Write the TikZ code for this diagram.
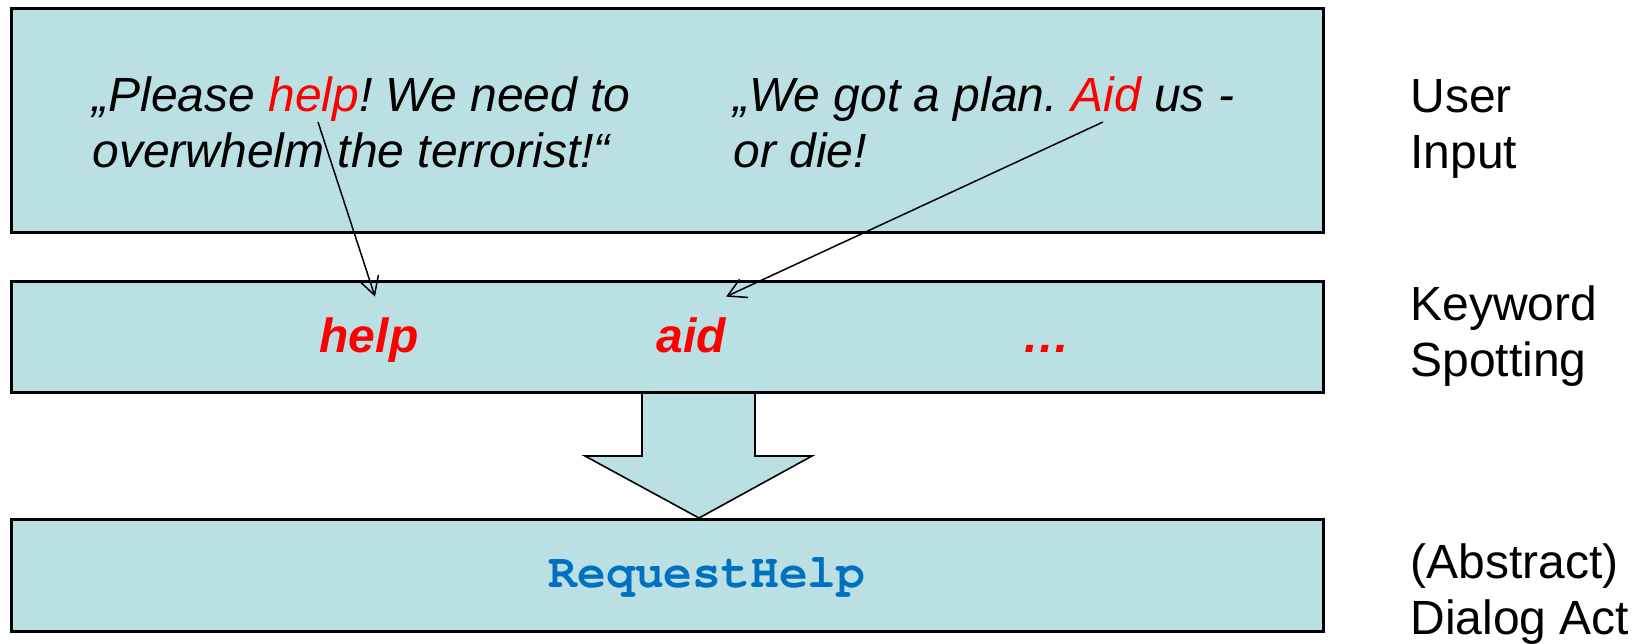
\documentclass[tikz,border=0pt]{standalone}
\usepackage{fontspec}
\setmainfont{Liberation Sans}
\setmonofont{TeX Gyre Cursor}
\usetikzlibrary{positioning,arrows.meta}
\definecolor{layerblue}{RGB}{187,224,227}
\definecolor{actblue}{RGB}{0,112,192}
\frenchspacing

\begin{document}
\begin{tikzpicture}[
  x=0.5pt, y=-0.5pt,
  layer/.style={draw,line width=1.25pt,fill=layerblue,inner sep=0pt,minimum width=656pt,anchor=north west},
  utter/.style={anchor=base west,align=left,inner sep=0pt,font=\fontsize{24pt}{28pt}\selectfont\itshape},
  keyword/.style={anchor=base,text=red,inner xsep=0pt,inner ysep=10pt,text height=17.5pt,font=\fontsize{24pt}{28pt}\selectfont\bfseries\itshape},
  levelname/.style={anchor=base west,align=left,inner sep=0pt,font=\fontsize{24pt}{28pt}\selectfont},
  spot/.style={-{Straight Barb[length=9pt,width=10pt]},line width=0.75pt}
]
  \useasboundingbox (0,0) rectangle (1643,643);

  % block arrow between keyword spotting and dialog act
  \draw[line width=0.8pt,fill=layerblue] (642,391) -- (642,456) -- (585,456) -- (699,518)
    -- (812,456) -- (755,456) -- (755,391);

  % the three layers
  \node[layer,minimum height=112pt] (input) at (10,7) {};
  \node[layer,minimum height=55.5pt] (spotting) at (10,280) {};
  \node[layer,minimum height=56pt] (act) at (10,518) {};

  % user input (base = last line)
  \node[utter] (utterA) at (92,167) {„Please \textcolor{red}{help}! We need to\\overwhelm the terrorist!“};
  \node[utter] (utterB) at (733,167) {„We got a plan. \textcolor{red}{Aid} us -\\or die!};
  \coordinate (helpsrc) at (318,122);
  \coordinate (aidsrc) at (1103,122);

  % spotted keywords
  \node[keyword] (kwhelp) at (369,352) {help};
  \node[keyword] (kwaid) at (691,352) {aid};
  \node[keyword] (kwmore) at (1046,352) {…};

  \draw[spot] (helpsrc) -- ([xshift=3pt]kwhelp.north);
  \draw[spot] (aidsrc) -- (kwaid.north east);

  % dialog act
  \node[anchor=base,inner sep=0pt,text=actblue,font=\fontsize{24pt}{28pt}\selectfont\ttfamily\bfseries] (reqhelp) at (707,587) {RequestHelp};

  % level names
  \node[levelname] (lblinput) at (1410,168) {User\\Input};
  \node[levelname] (lblspot) at (1410,376) {Keyword\\Spotting};
  \node[levelname] (lblact) at (1410,634) {(Abstract)\\Dialog Act};
\end{tikzpicture}
\end{document}
